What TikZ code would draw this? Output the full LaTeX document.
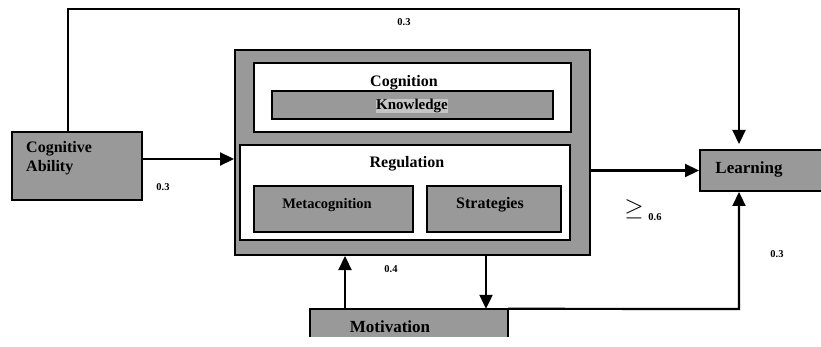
\documentclass[tikz,border=0pt]{standalone}
\usepackage{fontspec}
\setmainfont{Liberation Serif}
\usetikzlibrary{arrows.meta}
\definecolor{mygray}{RGB}{153,153,153}
\definecolor{mylight}{RGB}{196,196,196}

\begin{document}
\begin{tikzpicture}[x=1pt,y=-1pt,
    box/.style={draw=black, line width=2pt, fill=mygray, inner sep=0pt},
    whitebox/.style={draw=black, line width=2pt, fill=white, inner sep=0pt},
    txt/.style={font=\bfseries\fontsize{16}{19}\selectfont, inner sep=0pt},
    num/.style={font=\bfseries\fontsize{10.5}{12}\selectfont, inner sep=0pt},
    link/.style={line width=2.2pt, -{Triangle[length=14pt,width=13pt]}}]
    \useasboundingbox (0,0) rectangle (821,347);

    % boxes
    \node[box, minimum width=130pt, minimum height=68pt] (cogab) at (77,166) {};
    \node[box, minimum width=355pt, minimum height=205pt] (outer) at (412.5,152.5) {};
    \node[whitebox, minimum width=317pt, minimum height=69pt] (cogn) at (412.5,97.5) {};
    \node[box, minimum width=281pt, minimum height=28pt] (know) at (412.5,105) {};
    \node[whitebox, minimum width=330pt, minimum height=95pt] (regul) at (405,192.5) {};
    \node[box, minimum width=159pt, minimum height=46pt] (meta) at (333.5,209) {};
    \node[box, minimum width=134pt, minimum height=46pt] (strat) at (494,209) {};
    \node[box, minimum width=122pt, minimum height=41pt] (learn) at (761,170.5) {};
    \node[fill=mygray, inner sep=0pt, minimum width=198pt, minimum height=28pt] (motiv) at (409,323) {};
    \draw[line width=2pt] (motiv.south west) -- (motiv.north west) -- (motiv.north east) -- (motiv.south east);

    % texts
    \node[txt, align=left, anchor=west] (cogabtxt) at (26,158) {Cognitive\\Ability};
    \node[txt] (cogntxt) at (404,83) {Cognition};
    \node[txt, fill=mylight, font=\bfseries\fontsize{15}{17}\selectfont] (knowtxt) at (412,106) {Knowledge};
    \node[txt] (regultxt) at (407,164) {Regulation};
    \node[txt, font=\bfseries\fontsize{14.5}{17}\selectfont] (metatxt) at (327,205) {Metacognition};
    \node[txt] (strattxt) at (490,205) {Strategies};
    \node[txt, font=\bfseries\fontsize{17}{19}\selectfont] (learntxt) at (749,169) {Learning};
    \node[txt, font=\bfseries\fontsize{17}{19}\selectfont] (motivtxt) at (390,327) {Motivation};

    % connectors
    \coordinate (topl) at (68,9);
    \coordinate (topr) at (739,9);
    \coordinate (botr) at (739,309);
    \draw[link, shorten >=5pt] ([xshift=-9pt]cogab.north) -- (topl) -- (topr) -- ([xshift=-22pt]learn.north);
    \draw[link] ([yshift=7pt]cogab.east) -- ([yshift=7pt]cogab.east -| outer.west);
    \draw[link] (outer.east |- learn.west) -- (learn.west);
    \draw[link] ([xshift=-64pt]motiv.north) -- ([xshift=-64pt]motiv.north |- outer.south);
    \draw[link] ([xshift=77pt]motiv.north |- outer.south) -- ([xshift=77pt]motiv.north);
    \draw[link] (motiv.north east) -- (botr) -- ([xshift=-22pt]learn.south);

    % weights
    \node[num] (wtop) at (404,22) {0.3};
    \node[num] (wcog) at (163,187) {0.3};
    \node[num] (wmot) at (391,269) {0.4};
    \node[num] (wlearn) at (777,254) {0.3};
    \node[inner sep=0pt, font=\fontsize{25}{25}\selectfont] (geq) at (634,209) {$\geq$};
    \node[num] (wreg) at (655,217) {0.6};
\end{tikzpicture}
\end{document}
